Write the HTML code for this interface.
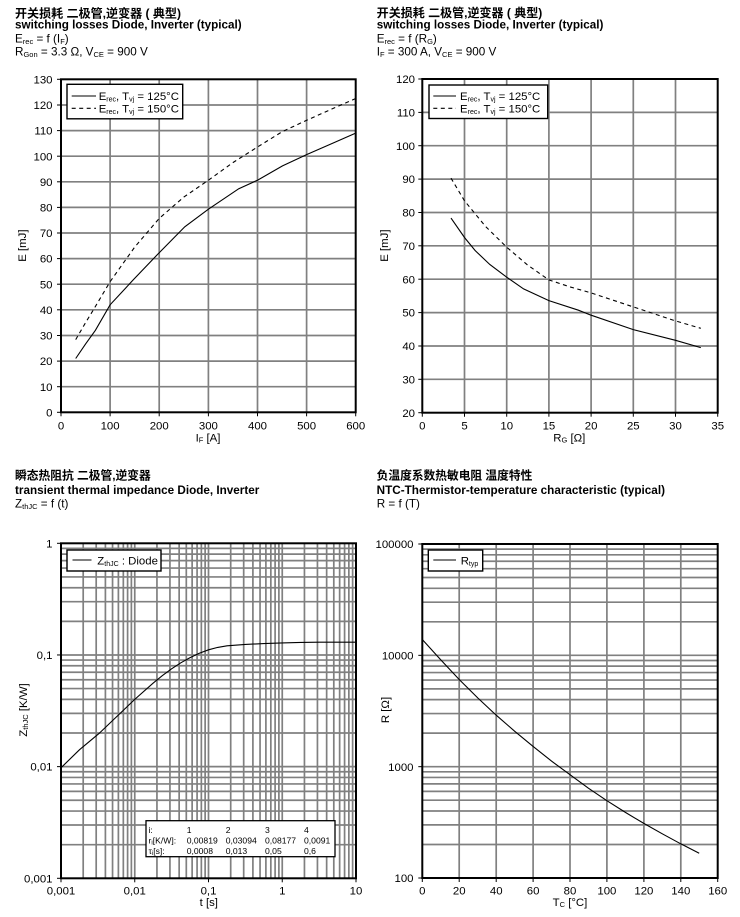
<!DOCTYPE html>
<html><head><meta charset="utf-8"><style>
html,body{margin:0;padding:0;background:#fff;width:740px;height:917px;overflow:hidden}
svg{display:block}
text{font-family:"Liberation Sans","Noto Sans CJK SC",sans-serif;fill:#000}
.g{stroke:#808080;stroke-width:1.7;fill:none}
.f{stroke:#000;stroke-width:2;fill:none}
.t{stroke:#000;stroke-width:1;fill:none}
.c{stroke:#000;stroke-width:1.1;fill:none}
.d{stroke:#000;stroke-width:1.1;fill:none;stroke-dasharray:4 3.5}
.lb{font-size:11.4px}
.h{font-size:11.7px}
.hb{font-size:11.7px;font-weight:bold}
.tb{font-size:8.6px}
</style></head><body>
<svg width="740" height="917" viewBox="0 0 740 917" xmlns="http://www.w3.org/2000/svg">

<!-- ===== HEADERS ===== -->
<text x="15" y="17.5" class="hb" textLength="166" lengthAdjust="spacingAndGlyphs">开关损耗 二极管,逆变器 ( 典型)</text>
<text x="15" y="28.7" class="hb" textLength="226.7" lengthAdjust="spacingAndGlyphs">switching losses Diode, Inverter (typical)</text>
<text x="15" y="42.3" class="h">E<tspan font-size="7.5" dy="1.5">rec</tspan><tspan dy="-1.5"> = f (I</tspan><tspan font-size="7.5" dy="1.5">F</tspan><tspan dy="-1.5">)</tspan></text>
<text x="15" y="55.7" class="h">R<tspan font-size="7.5" dy="1.5">Gon</tspan><tspan dy="-1.5"> = 3.3 Ω, V</tspan><tspan font-size="7.5" dy="1.5">CE</tspan><tspan dy="-1.5"> = 900 V</tspan></text>

<text x="376.7" y="17.2" class="hb" textLength="165.6" lengthAdjust="spacingAndGlyphs">开关损耗 二极管,逆变器 ( 典型)</text>
<text x="376.7" y="28.7" class="hb" textLength="226.7" lengthAdjust="spacingAndGlyphs">switching losses Diode, Inverter (typical)</text>
<text x="376.7" y="42.3" class="h">E<tspan font-size="7.5" dy="1.5">rec</tspan><tspan dy="-1.5"> = f (R</tspan><tspan font-size="7.5" dy="1.5">G</tspan><tspan dy="-1.5">)</tspan></text>
<text x="376.7" y="55.7" class="h">I<tspan font-size="7.5" dy="1.5">F</tspan><tspan dy="-1.5"> = 300 A, V</tspan><tspan font-size="7.5" dy="1.5">CE</tspan><tspan dy="-1.5"> = 900 V</tspan></text>

<text x="15" y="479.5" class="hb" textLength="135.7" lengthAdjust="spacingAndGlyphs">瞬态热阻抗 二极管,逆变器</text>
<text x="15" y="494" class="hb" textLength="244.3" lengthAdjust="spacingAndGlyphs">transient thermal impedance Diode, Inverter</text>
<text x="15" y="507.3" class="h">Z<tspan font-size="7.5" dy="1.5">thJC</tspan><tspan dy="-1.5"> = f (t)</tspan></text>

<text x="376.7" y="479.5" class="hb" textLength="155.6" lengthAdjust="spacingAndGlyphs">负温度系数热敏电阻 温度特性</text>
<text x="376.7" y="494" class="hb" textLength="288.3" lengthAdjust="spacingAndGlyphs">NTC-Thermistor-temperature characteristic (typical)</text>
<text x="376.7" y="507.3" class="h">R = f (T)</text>

<!-- ===== CHART 1 (top-left) ===== -->
<g class="g">
<line x1="110.1" y1="79.3" x2="110.1" y2="412.3"/><line x1="159.2" y1="79.3" x2="159.2" y2="412.3"/><line x1="208.4" y1="79.3" x2="208.4" y2="412.3"/><line x1="257.5" y1="79.3" x2="257.5" y2="412.3"/><line x1="306.6" y1="79.3" x2="306.6" y2="412.3"/>
<line x1="61" y1="386.7" x2="355.7" y2="386.7"/><line x1="61" y1="361.1" x2="355.7" y2="361.1"/><line x1="61" y1="335.5" x2="355.7" y2="335.5"/><line x1="61" y1="309.8" x2="355.7" y2="309.8"/><line x1="61" y1="284.2" x2="355.7" y2="284.2"/><line x1="61" y1="258.6" x2="355.7" y2="258.6"/><line x1="61" y1="233.0" x2="355.7" y2="233.0"/><line x1="61" y1="207.4" x2="355.7" y2="207.4"/><line x1="61" y1="181.8" x2="355.7" y2="181.8"/><line x1="61" y1="156.2" x2="355.7" y2="156.2"/><line x1="61" y1="130.6" x2="355.7" y2="130.6"/><line x1="61" y1="105.0" x2="355.7" y2="105.0"/>
</g>
<polyline class="c" points="75.7,358.5 85.6,343.9 95.4,330.3 110.1,304.8 133.2,279.9 159.2,252.7 184.8,226.8 208.4,209.2 238.8,188.7 257.5,180.2 282.5,165.9 306.6,154.6 331.2,143.9 355.7,133.1"/>
<polyline class="d" points="75.7,339.6 85.6,322.6 93.4,309.8 110.1,281.7 134.7,247.1 159.2,218.4 183.8,197.1 208.4,180.2 232.9,162.6 257.5,147 282.0,131.8 306.6,120.3 331.2,109.3 355.7,98.5"/>
<rect class="f" x="61" y="79.3" width="294.7" height="333"/>
<g class="t">
<line x1="57" y1="412.3" x2="61" y2="412.3"/><line x1="57" y1="386.7" x2="61" y2="386.7"/><line x1="57" y1="361.1" x2="61" y2="361.1"/><line x1="57" y1="335.5" x2="61" y2="335.5"/><line x1="57" y1="309.8" x2="61" y2="309.8"/><line x1="57" y1="284.2" x2="61" y2="284.2"/><line x1="57" y1="258.6" x2="61" y2="258.6"/><line x1="57" y1="233.0" x2="61" y2="233.0"/><line x1="57" y1="207.4" x2="61" y2="207.4"/><line x1="57" y1="181.8" x2="61" y2="181.8"/><line x1="57" y1="156.2" x2="61" y2="156.2"/><line x1="57" y1="130.6" x2="61" y2="130.6"/><line x1="57" y1="105.0" x2="61" y2="105.0"/><line x1="57" y1="79.3" x2="61" y2="79.3"/>
<line x1="61" y1="412.3" x2="61" y2="416.3"/><line x1="110.1" y1="412.3" x2="110.1" y2="416.3"/><line x1="159.2" y1="412.3" x2="159.2" y2="416.3"/><line x1="208.4" y1="412.3" x2="208.4" y2="416.3"/><line x1="257.5" y1="412.3" x2="257.5" y2="416.3"/><line x1="306.6" y1="412.3" x2="306.6" y2="416.3"/><line x1="355.7" y1="412.3" x2="355.7" y2="416.3"/>
</g>
<g class="lb" text-anchor="end">
<text x="52.5" y="416.4">0</text><text x="52.5" y="390.8">10</text><text x="52.5" y="365.2">20</text><text x="52.5" y="339.6">30</text><text x="52.5" y="313.9">40</text><text x="52.5" y="288.3">50</text><text x="52.5" y="262.7">60</text><text x="52.5" y="237.1">70</text><text x="52.5" y="211.5">80</text><text x="52.5" y="185.9">90</text><text x="52.5" y="160.3">100</text><text x="52.5" y="134.7">110</text><text x="52.5" y="109.1">120</text><text x="52.5" y="83.4">130</text>
</g>
<g class="lb" text-anchor="middle">
<text x="61" y="429.5">0</text><text x="110.1" y="429.5">100</text><text x="159.2" y="429.5">200</text><text x="208.4" y="429.5">300</text><text x="257.5" y="429.5">400</text><text x="306.6" y="429.5">500</text><text x="355.7" y="429.5">600</text>
<text x="208" y="441.7">I<tspan font-size="7.5" dy="1">F</tspan><tspan dy="-1"> [A]</tspan></text>
<text transform="translate(26,245.6) rotate(-90)">E [mJ]</text>
</g>
<rect x="67" y="84.3" width="115.7" height="34.5" fill="#fff" stroke="#000" stroke-width="1.4"/>
<line class="c" x1="71.7" y1="96" x2="96" y2="96"/>
<line class="d" x1="71.7" y1="108.3" x2="96" y2="108.3" stroke-dasharray="4 3.8"/>
<text x="98.7" y="100" class="lb">E<tspan font-size="7" dy="1.5">rec</tspan><tspan dy="-1.5">,  T</tspan><tspan font-size="7" dy="1.5">vj</tspan><tspan dy="-1.5"> = 125°C</tspan></text>
<text x="98.7" y="112.5" class="lb">E<tspan font-size="7" dy="1.5">rec</tspan><tspan dy="-1.5">,  T</tspan><tspan font-size="7" dy="1.5">vj</tspan><tspan dy="-1.5"> = 150°C</tspan></text>

<!-- ===== CHART 2 (top-right) ===== -->
<g class="g">
<line x1="464.5" y1="79" x2="464.5" y2="412.7"/><line x1="506.7" y1="79" x2="506.7" y2="412.7"/><line x1="548.9" y1="79" x2="548.9" y2="412.7"/><line x1="591.1" y1="79" x2="591.1" y2="412.7"/><line x1="633.3" y1="79" x2="633.3" y2="412.7"/><line x1="675.5" y1="79" x2="675.5" y2="412.7"/>
<line x1="422.3" y1="379.3" x2="717.7" y2="379.3"/><line x1="422.3" y1="346.0" x2="717.7" y2="346.0"/><line x1="422.3" y1="312.6" x2="717.7" y2="312.6"/><line x1="422.3" y1="279.2" x2="717.7" y2="279.2"/><line x1="422.3" y1="245.8" x2="717.7" y2="245.8"/><line x1="422.3" y1="212.5" x2="717.7" y2="212.5"/><line x1="422.3" y1="179.1" x2="717.7" y2="179.1"/><line x1="422.3" y1="145.7" x2="717.7" y2="145.7"/><line x1="422.3" y1="112.4" x2="717.7" y2="112.4"/>
</g>
<polyline class="c" points="451.0,218.1 464.5,237.5 475.1,250.5 489.8,264.5 506.7,277.2 523.6,288.9 548.9,300.6 578.4,310.2 591.1,315.2 633.3,329.6 675.5,340.3 700.8,347.6"/>
<polyline class="d" points="451.0,178.1 464.5,200.8 485.6,226.5 506.7,247.2 527.8,265.2 548.9,279.9 570.0,286.9 591.1,292.9 633.3,306.9 675.5,320.9 700.8,328.3"/>
<rect class="f" x="422.3" y="79" width="295.4" height="333.7"/>
<g class="t">
<line x1="418.3" y1="412.7" x2="422.3" y2="412.7"/><line x1="418.3" y1="379.3" x2="422.3" y2="379.3"/><line x1="418.3" y1="346.0" x2="422.3" y2="346.0"/><line x1="418.3" y1="312.6" x2="422.3" y2="312.6"/><line x1="418.3" y1="279.2" x2="422.3" y2="279.2"/><line x1="418.3" y1="245.8" x2="422.3" y2="245.8"/><line x1="418.3" y1="212.5" x2="422.3" y2="212.5"/><line x1="418.3" y1="179.1" x2="422.3" y2="179.1"/><line x1="418.3" y1="145.7" x2="422.3" y2="145.7"/><line x1="418.3" y1="112.4" x2="422.3" y2="112.4"/><line x1="418.3" y1="79" x2="422.3" y2="79"/>
<line x1="422.3" y1="412.7" x2="422.3" y2="416.7"/><line x1="464.5" y1="412.7" x2="464.5" y2="416.7"/><line x1="506.7" y1="412.7" x2="506.7" y2="416.7"/><line x1="548.9" y1="412.7" x2="548.9" y2="416.7"/><line x1="591.1" y1="412.7" x2="591.1" y2="416.7"/><line x1="633.3" y1="412.7" x2="633.3" y2="416.7"/><line x1="675.5" y1="412.7" x2="675.5" y2="416.7"/><line x1="717.7" y1="412.7" x2="717.7" y2="416.7"/>
</g>
<g class="lb" text-anchor="end">
<text x="415" y="416.8">20</text><text x="415" y="383.4">30</text><text x="415" y="350.1">40</text><text x="415" y="316.7">50</text><text x="415" y="283.3">60</text><text x="415" y="249.9">70</text><text x="415" y="216.6">80</text><text x="415" y="183.2">90</text><text x="415" y="149.8">100</text><text x="415" y="116.5">110</text><text x="415" y="83.1">120</text>
</g>
<g class="lb" text-anchor="middle">
<text x="422.3" y="429.5">0</text><text x="464.5" y="429.5">5</text><text x="506.7" y="429.5">10</text><text x="548.9" y="429.5">15</text><text x="591.1" y="429.5">20</text><text x="633.3" y="429.5">25</text><text x="675.5" y="429.5">30</text><text x="717.7" y="429.5">35</text>
<text x="569.3" y="441.7">R<tspan font-size="7.5" dy="1">G</tspan><tspan dy="-1"> [Ω]</tspan></text>
<text transform="translate(388,245.6) rotate(-90)">E [mJ]</text>
</g>
<rect x="429" y="85" width="118.7" height="33.5" fill="#fff" stroke="#000" stroke-width="1.4"/>
<line class="c" x1="433.3" y1="96" x2="456" y2="96"/>
<line class="d" x1="433.3" y1="108.3" x2="456" y2="108.3" stroke-dasharray="4 3.8"/>
<text x="460" y="100" class="lb">E<tspan font-size="7" dy="1.5">rec</tspan><tspan dy="-1.5">,  T</tspan><tspan font-size="7" dy="1.5">vj</tspan><tspan dy="-1.5"> = 125°C</tspan></text>
<text x="460" y="112.5" class="lb">E<tspan font-size="7" dy="1.5">rec</tspan><tspan dy="-1.5">,  T</tspan><tspan font-size="7" dy="1.5">vj</tspan><tspan dy="-1.5"> = 150°C</tspan></text>

<!-- ===== CHART 3 (bottom-left, log-log) ===== -->
<g class="g">
<line x1="83.2" y1="543.3" x2="83.2" y2="878.3"/><line x1="96.19" y1="543.3" x2="96.19" y2="878.3"/><line x1="105.4" y1="543.3" x2="105.4" y2="878.3"/><line x1="112.55" y1="543.3" x2="112.55" y2="878.3"/><line x1="118.39" y1="543.3" x2="118.39" y2="878.3"/><line x1="123.33" y1="543.3" x2="123.33" y2="878.3"/><line x1="127.6" y1="543.3" x2="127.6" y2="878.3"/><line x1="131.38" y1="543.3" x2="131.38" y2="878.3"/><line x1="134.75" y1="543.3" x2="134.75" y2="878.3"/>
<line x1="156.95" y1="543.3" x2="156.95" y2="878.3"/><line x1="169.94" y1="543.3" x2="169.94" y2="878.3"/><line x1="179.15" y1="543.3" x2="179.15" y2="878.3"/><line x1="186.3" y1="543.3" x2="186.3" y2="878.3"/><line x1="192.14" y1="543.3" x2="192.14" y2="878.3"/><line x1="197.08" y1="543.3" x2="197.08" y2="878.3"/><line x1="201.35" y1="543.3" x2="201.35" y2="878.3"/><line x1="205.13" y1="543.3" x2="205.13" y2="878.3"/><line x1="208.5" y1="543.3" x2="208.5" y2="878.3"/>
<line x1="230.7" y1="543.3" x2="230.7" y2="878.3"/><line x1="243.69" y1="543.3" x2="243.69" y2="878.3"/><line x1="252.9" y1="543.3" x2="252.9" y2="878.3"/><line x1="260.05" y1="543.3" x2="260.05" y2="878.3"/><line x1="265.89" y1="543.3" x2="265.89" y2="878.3"/><line x1="270.83" y1="543.3" x2="270.83" y2="878.3"/><line x1="275.1" y1="543.3" x2="275.1" y2="878.3"/><line x1="278.88" y1="543.3" x2="278.88" y2="878.3"/><line x1="282.25" y1="543.3" x2="282.25" y2="878.3"/>
<line x1="304.45" y1="543.3" x2="304.45" y2="878.3"/><line x1="317.44" y1="543.3" x2="317.44" y2="878.3"/><line x1="326.65" y1="543.3" x2="326.65" y2="878.3"/><line x1="333.8" y1="543.3" x2="333.8" y2="878.3"/><line x1="339.64" y1="543.3" x2="339.64" y2="878.3"/><line x1="344.58" y1="543.3" x2="344.58" y2="878.3"/><line x1="348.85" y1="543.3" x2="348.85" y2="878.3"/><line x1="352.63" y1="543.3" x2="352.63" y2="878.3"/>
<line x1="61" y1="844.68" x2="356" y2="844.68"/><line x1="61" y1="825.02" x2="356" y2="825.02"/><line x1="61" y1="811.07" x2="356" y2="811.07"/><line x1="61" y1="800.25" x2="356" y2="800.25"/><line x1="61" y1="791.4" x2="356" y2="791.4"/><line x1="61" y1="783.93" x2="356" y2="783.93"/><line x1="61" y1="777.45" x2="356" y2="777.45"/><line x1="61" y1="771.74" x2="356" y2="771.74"/><line x1="61" y1="766.63" x2="356" y2="766.63"/>
<line x1="61" y1="733.01" x2="356" y2="733.01"/><line x1="61" y1="713.35" x2="356" y2="713.35"/><line x1="61" y1="699.4" x2="356" y2="699.4"/><line x1="61" y1="688.58" x2="356" y2="688.58"/><line x1="61" y1="679.73" x2="356" y2="679.73"/><line x1="61" y1="672.26" x2="356" y2="672.26"/><line x1="61" y1="665.78" x2="356" y2="665.78"/><line x1="61" y1="660.07" x2="356" y2="660.07"/><line x1="61" y1="654.97" x2="356" y2="654.97"/>
<line x1="61" y1="621.35" x2="356" y2="621.35"/><line x1="61" y1="601.69" x2="356" y2="601.69"/><line x1="61" y1="587.74" x2="356" y2="587.74"/><line x1="61" y1="576.92" x2="356" y2="576.92"/><line x1="61" y1="568.07" x2="356" y2="568.07"/><line x1="61" y1="560.6" x2="356" y2="560.6"/><line x1="61" y1="554.12" x2="356" y2="554.12"/><line x1="61" y1="548.41" x2="356" y2="548.41"/>
</g>
<polyline class="c" points="61,767.8 79.4,749.8 98.9,733.6 116.3,717.0 134.75,699.4 153.2,683.1 162.4,675.6 171.6,668.8 180.8,662.8 190.1,657.6 199.3,653.2 208.5,649.8 217.7,647.4 227,645.8 245.4,644.4 263.8,643.6 282.25,642.9 300.7,642.4 319.1,642.2 356,642.2"/>
<rect class="f" x="61" y="543.3" width="295" height="335"/>
<g class="t">
<line x1="57" y1="543.3" x2="61" y2="543.3"/><line x1="57" y1="654.97" x2="61" y2="654.97"/><line x1="57" y1="766.63" x2="61" y2="766.63"/><line x1="57" y1="878.3" x2="61" y2="878.3"/>
<line x1="61" y1="878.3" x2="61" y2="882.3"/><line x1="134.75" y1="878.3" x2="134.75" y2="882.3"/><line x1="208.5" y1="878.3" x2="208.5" y2="882.3"/><line x1="282.25" y1="878.3" x2="282.25" y2="882.3"/><line x1="356" y1="878.3" x2="356" y2="882.3"/>
</g>
<g class="lb" text-anchor="end">
<text x="52.5" y="547.4">1</text><text x="52.5" y="659.1">0,1</text><text x="52.5" y="770.7">0,01</text><text x="52.5" y="882.4">0,001</text>
</g>
<g class="lb" text-anchor="middle">
<text x="61" y="894.3">0,001</text><text x="134.75" y="894.3">0,01</text><text x="208.5" y="894.3">0,1</text><text x="282.25" y="894.3">1</text><text x="356" y="894.3">10</text>
<text x="208.8" y="906">t [s]</text>
<text transform="translate(27,710) rotate(-90)">Z<tspan font-size="7.5" dy="1">thJC</tspan><tspan dy="-1"> [K/W]</tspan></text>
</g>
<rect x="67" y="550" width="94" height="21" fill="#fff" stroke="#000" stroke-width="1.4"/>
<line class="c" x1="72.5" y1="560" x2="91.5" y2="560"/>
<text x="97.3" y="564.3" class="lb">Z<tspan font-size="7" dy="1.5">thJC</tspan><tspan dy="-1.5"> : Diode</tspan></text>
<rect x="146" y="820.7" width="189" height="36" fill="#fff" stroke="#000" stroke-width="1.3"/>
<g class="tb">
<text x="148.5" y="833">i:</text><text x="186.7" y="833">1</text><text x="225.7" y="833">2</text><text x="265" y="833">3</text><text x="304" y="833">4</text>
<text x="148.5" y="843.5">r<tspan font-size="6" dy="1">i</tspan><tspan dy="-1">[K/W]:</tspan></text><text x="186.7" y="843.5">0,00819</text><text x="225.7" y="843.5">0,03094</text><text x="265" y="843.5">0,08177</text><text x="304" y="843.5">0,0091</text>
<text x="148.5" y="854">τ<tspan font-size="6" dy="1">i</tspan><tspan dy="-1">[s]:</tspan></text><text x="186.7" y="854">0,0008</text><text x="225.7" y="854">0,013</text><text x="265" y="854">0,05</text><text x="304" y="854">0,6</text>
</g>

<!-- ===== CHART 4 (bottom-right, NTC) ===== -->
<g class="g">
<line x1="459.2" y1="544" x2="459.2" y2="878"/><line x1="496.2" y1="544" x2="496.2" y2="878"/><line x1="533.1" y1="544" x2="533.1" y2="878"/><line x1="570.0" y1="544" x2="570.0" y2="878"/><line x1="606.9" y1="544" x2="606.9" y2="878"/><line x1="643.9" y1="544" x2="643.9" y2="878"/><line x1="680.8" y1="544" x2="680.8" y2="878"/>
<line x1="422.3" y1="844.49" x2="717.7" y2="844.49"/><line x1="422.3" y1="824.88" x2="717.7" y2="824.88"/><line x1="422.3" y1="810.97" x2="717.7" y2="810.97"/><line x1="422.3" y1="800.18" x2="717.7" y2="800.18"/><line x1="422.3" y1="791.37" x2="717.7" y2="791.37"/><line x1="422.3" y1="783.91" x2="717.7" y2="783.91"/><line x1="422.3" y1="777.46" x2="717.7" y2="777.46"/><line x1="422.3" y1="771.8" x2="717.7" y2="771.8"/><line x1="422.3" y1="766.67" x2="717.7" y2="766.67"/>
<line x1="422.3" y1="733.16" x2="717.7" y2="733.16"/><line x1="422.3" y1="713.55" x2="717.7" y2="713.55"/><line x1="422.3" y1="699.64" x2="717.7" y2="699.64"/><line x1="422.3" y1="688.85" x2="717.7" y2="688.85"/><line x1="422.3" y1="680.04" x2="717.7" y2="680.04"/><line x1="422.3" y1="672.58" x2="717.7" y2="672.58"/><line x1="422.3" y1="666.13" x2="717.7" y2="666.13"/><line x1="422.3" y1="660.47" x2="717.7" y2="660.47"/><line x1="422.3" y1="655.33" x2="717.7" y2="655.33"/>
<line x1="422.3" y1="621.82" x2="717.7" y2="621.82"/><line x1="422.3" y1="602.21" x2="717.7" y2="602.21"/><line x1="422.3" y1="588.3" x2="717.7" y2="588.3"/><line x1="422.3" y1="577.51" x2="717.7" y2="577.51"/><line x1="422.3" y1="568.7" x2="717.7" y2="568.7"/><line x1="422.3" y1="561.24" x2="717.7" y2="561.24"/><line x1="422.3" y1="554.79" x2="717.7" y2="554.79"/><line x1="422.3" y1="549.13" x2="717.7" y2="549.13"/>
</g>
<polyline class="c" points="422.3,639.5 440.8,659.9 459.2,679.5 477.7,697.9 496.1,715.1 514.6,731.2 533.1,746.4 551.5,761.1 570,774.7 588.4,788.2 606.9,800.7 625.4,812.4 643.8,823.4 662.3,833.8 680.7,843.8 699.2,853.3"/>
<rect class="f" x="422.3" y="544" width="295.4" height="334"/>
<g class="t">
<line x1="418.3" y1="544" x2="422.3" y2="544"/><line x1="418.3" y1="655.33" x2="422.3" y2="655.33"/><line x1="418.3" y1="766.67" x2="422.3" y2="766.67"/><line x1="418.3" y1="878" x2="422.3" y2="878"/>
<line x1="422.3" y1="878" x2="422.3" y2="882"/><line x1="459.2" y1="878" x2="459.2" y2="882"/><line x1="496.2" y1="878" x2="496.2" y2="882"/><line x1="533.1" y1="878" x2="533.1" y2="882"/><line x1="570.0" y1="878" x2="570.0" y2="882"/><line x1="606.9" y1="878" x2="606.9" y2="882"/><line x1="643.9" y1="878" x2="643.9" y2="882"/><line x1="680.8" y1="878" x2="680.8" y2="882"/><line x1="717.7" y1="878" x2="717.7" y2="882"/>
</g>
<g class="lb" text-anchor="end">
<text x="413.5" y="548.1">100000</text><text x="413.5" y="659.4">10000</text><text x="413.5" y="770.8">1000</text><text x="413.5" y="882.1">100</text>
</g>
<g class="lb" text-anchor="middle">
<text x="422.3" y="894.3">0</text><text x="459.2" y="894.3">20</text><text x="496.2" y="894.3">40</text><text x="533.1" y="894.3">60</text><text x="570.0" y="894.3">80</text><text x="606.9" y="894.3">100</text><text x="643.9" y="894.3">120</text><text x="680.8" y="894.3">140</text><text x="717.7" y="894.3">160</text>
<text x="570" y="906">T<tspan font-size="7.5" dy="1">C</tspan><tspan dy="-1"> [°C]</tspan></text>
<text transform="translate(389,710) rotate(-90)">R [Ω]</text>
</g>
<rect x="428.3" y="550" width="54.4" height="21" fill="#fff" stroke="#000" stroke-width="1.4"/>
<line class="c" x1="433.3" y1="560" x2="456" y2="560"/>
<text x="460.7" y="564.3" class="lb">R<tspan font-size="7" dy="1.5">typ</tspan></text>

</svg>
</body></html>
